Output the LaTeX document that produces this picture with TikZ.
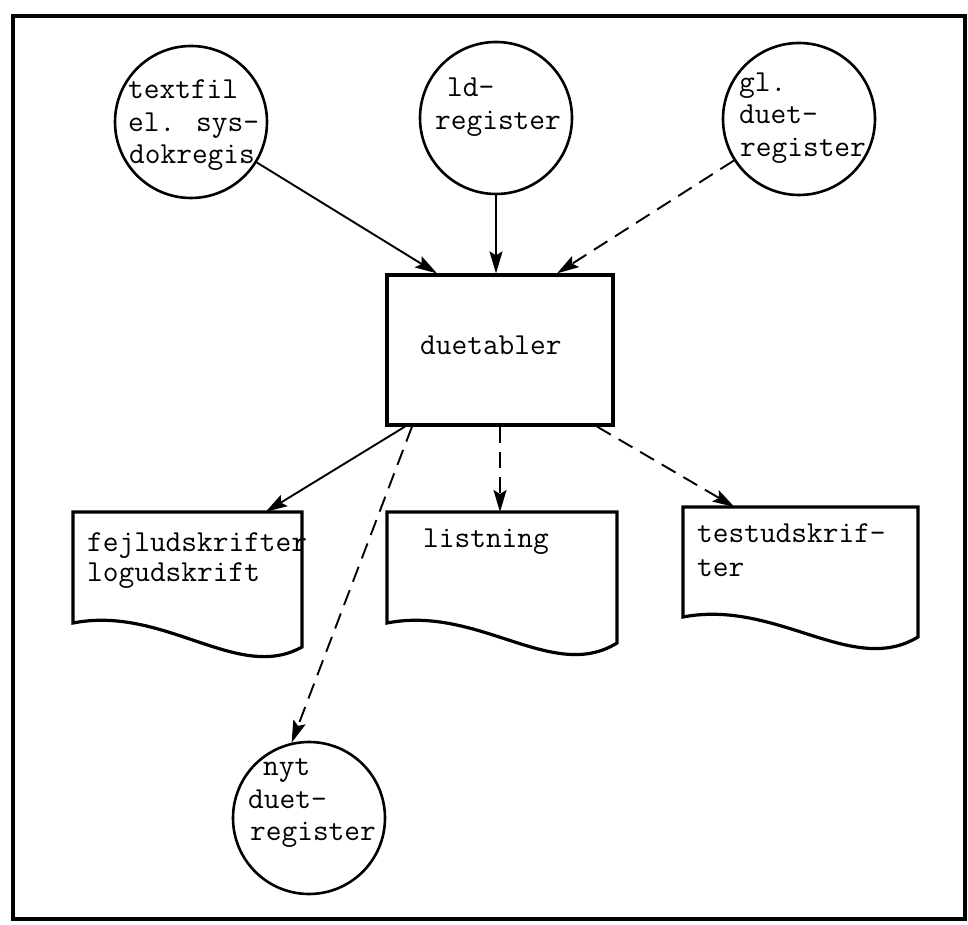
\documentclass[tikz,border=0pt]{standalone}
\usepackage{fontspec}
\usetikzlibrary{arrows.meta,calc}

\tikzset{
  reg/.style={circle, draw, line width=2.6pt, minimum size=152pt, inner sep=0pt},
  proc/.style={draw, line width=3.2pt, minimum width=226pt, minimum height=150pt, inner sep=0pt},
  docarea/.style={inner sep=0pt, outer sep=0pt},
  docline/.style={line width=3.2pt, line join=miter},
  lbl/.style={anchor=base west, inner sep=0pt,
    font=\fontsize{30.5}{31}\selectfont\ttfamily\addfontfeature{FakeBold=0.6}},
  flow/.style={line width=1.9pt, -{Stealth[length=22pt,width=13pt,inset=4pt]}},
  dashflow/.style={flow, dash pattern=on 16pt off 9pt},
}

% outline of a printed document: flat top, wavy bottom edge
\newcommand\docoutline[2]{%
  \draw[docline] (#1.south west) -- (#1.north west) -- (#1.north east)
    -- ([yshift=-#2pt]#1.south east)
    .. controls ($(#1.south west)!0.72!(#1.south east)+(0,-60)$)
           and ($(#1.south west)!0.40!(#1.south east)+(0,18)$) .. (#1.south west)
    -- cycle;}

\begin{document}
\begin{tikzpicture}[x=1pt, y=1pt]
  \useasboundingbox (0,0) rectangle (968,924);

  % outer frame
  \draw[line width=3.6pt] (13,5) rectangle (965,908);

  % registers (circles)
  \node[reg] (c1) at (191,802) {};
  \node[reg] (c2) at (496,806) {};
  \node[reg] (c3) at (799,805) {};
  \node[reg] (c4) at (309,106) {};

  % process box
  \node[proc] (box) at (500,574) {};

  % printed outputs
  \node[docarea, minimum width=229pt, minimum height=111pt] (d1) at (187.5,356.5) {};
  \node[docarea, minimum width=230pt, minimum height=111pt] (d2) at (502,356.5) {};
  \node[docarea, minimum width=235pt, minimum height=110pt] (d3) at (800.5,362) {};
  \docoutline{d1}{24}
  \docoutline{d2}{20}
  \docoutline{d3}{20}

  % texts
  \node[lbl] (t1a) at (128,825) {textfil};
  \node[lbl] (t1b) at (128,792) {el. sys-};
  \node[lbl] (t1c) at (129,760) {dokregis};

  \node[lbl] (t2a) at (447,827) {ld-};
  \node[lbl] (t2b) at (435,794) {register};

  \node[lbl] (t3a) at (739,832) {gl.};
  \node[lbl] (t3b) at (739,800) {duet-};
  \node[lbl] (t3c) at (740,767) {register};

  \node[lbl] (t4a) at (263,149) {nyt};
  \node[lbl] (t4b) at (248,116) {duet-};
  \node[lbl] (t4c) at (250,84) {register};

  \node[lbl] (tb) at (420,569) {duetabler};

  \node[lbl] (td1a) at (87,372) {fejludskrifter};
  \node[lbl] (td1b) at (87,342) {logudskrift};
  \node[lbl] (td2) at (423,376) {listning};
  \node[lbl] (td3a) at (697,381) {testudskrif-};
  \node[lbl] (td3b) at (697,347) {ter};

  % inputs
  \draw[flow] (c1) -- ([xshift=-63pt]box.north);
  \draw[flow] (c2.south) -- (c2.south |- box.north);
  \draw[dashflow] (c3) -- ([xshift=57pt]box.north);

  % outputs
  \draw[flow] ([xshift=-95pt]box.south) -- ([xshift=78pt]d1.north);
  \draw[dashflow] ([xshift=-88pt]box.south) -- (c4.103);
  \draw[dashflow] (box.south) -- (box.south |- d2.north);
  \draw[dashflow] ([xshift=97pt]box.south) -- ([xshift=-66pt]d3.north);
\end{tikzpicture}
\end{document}
